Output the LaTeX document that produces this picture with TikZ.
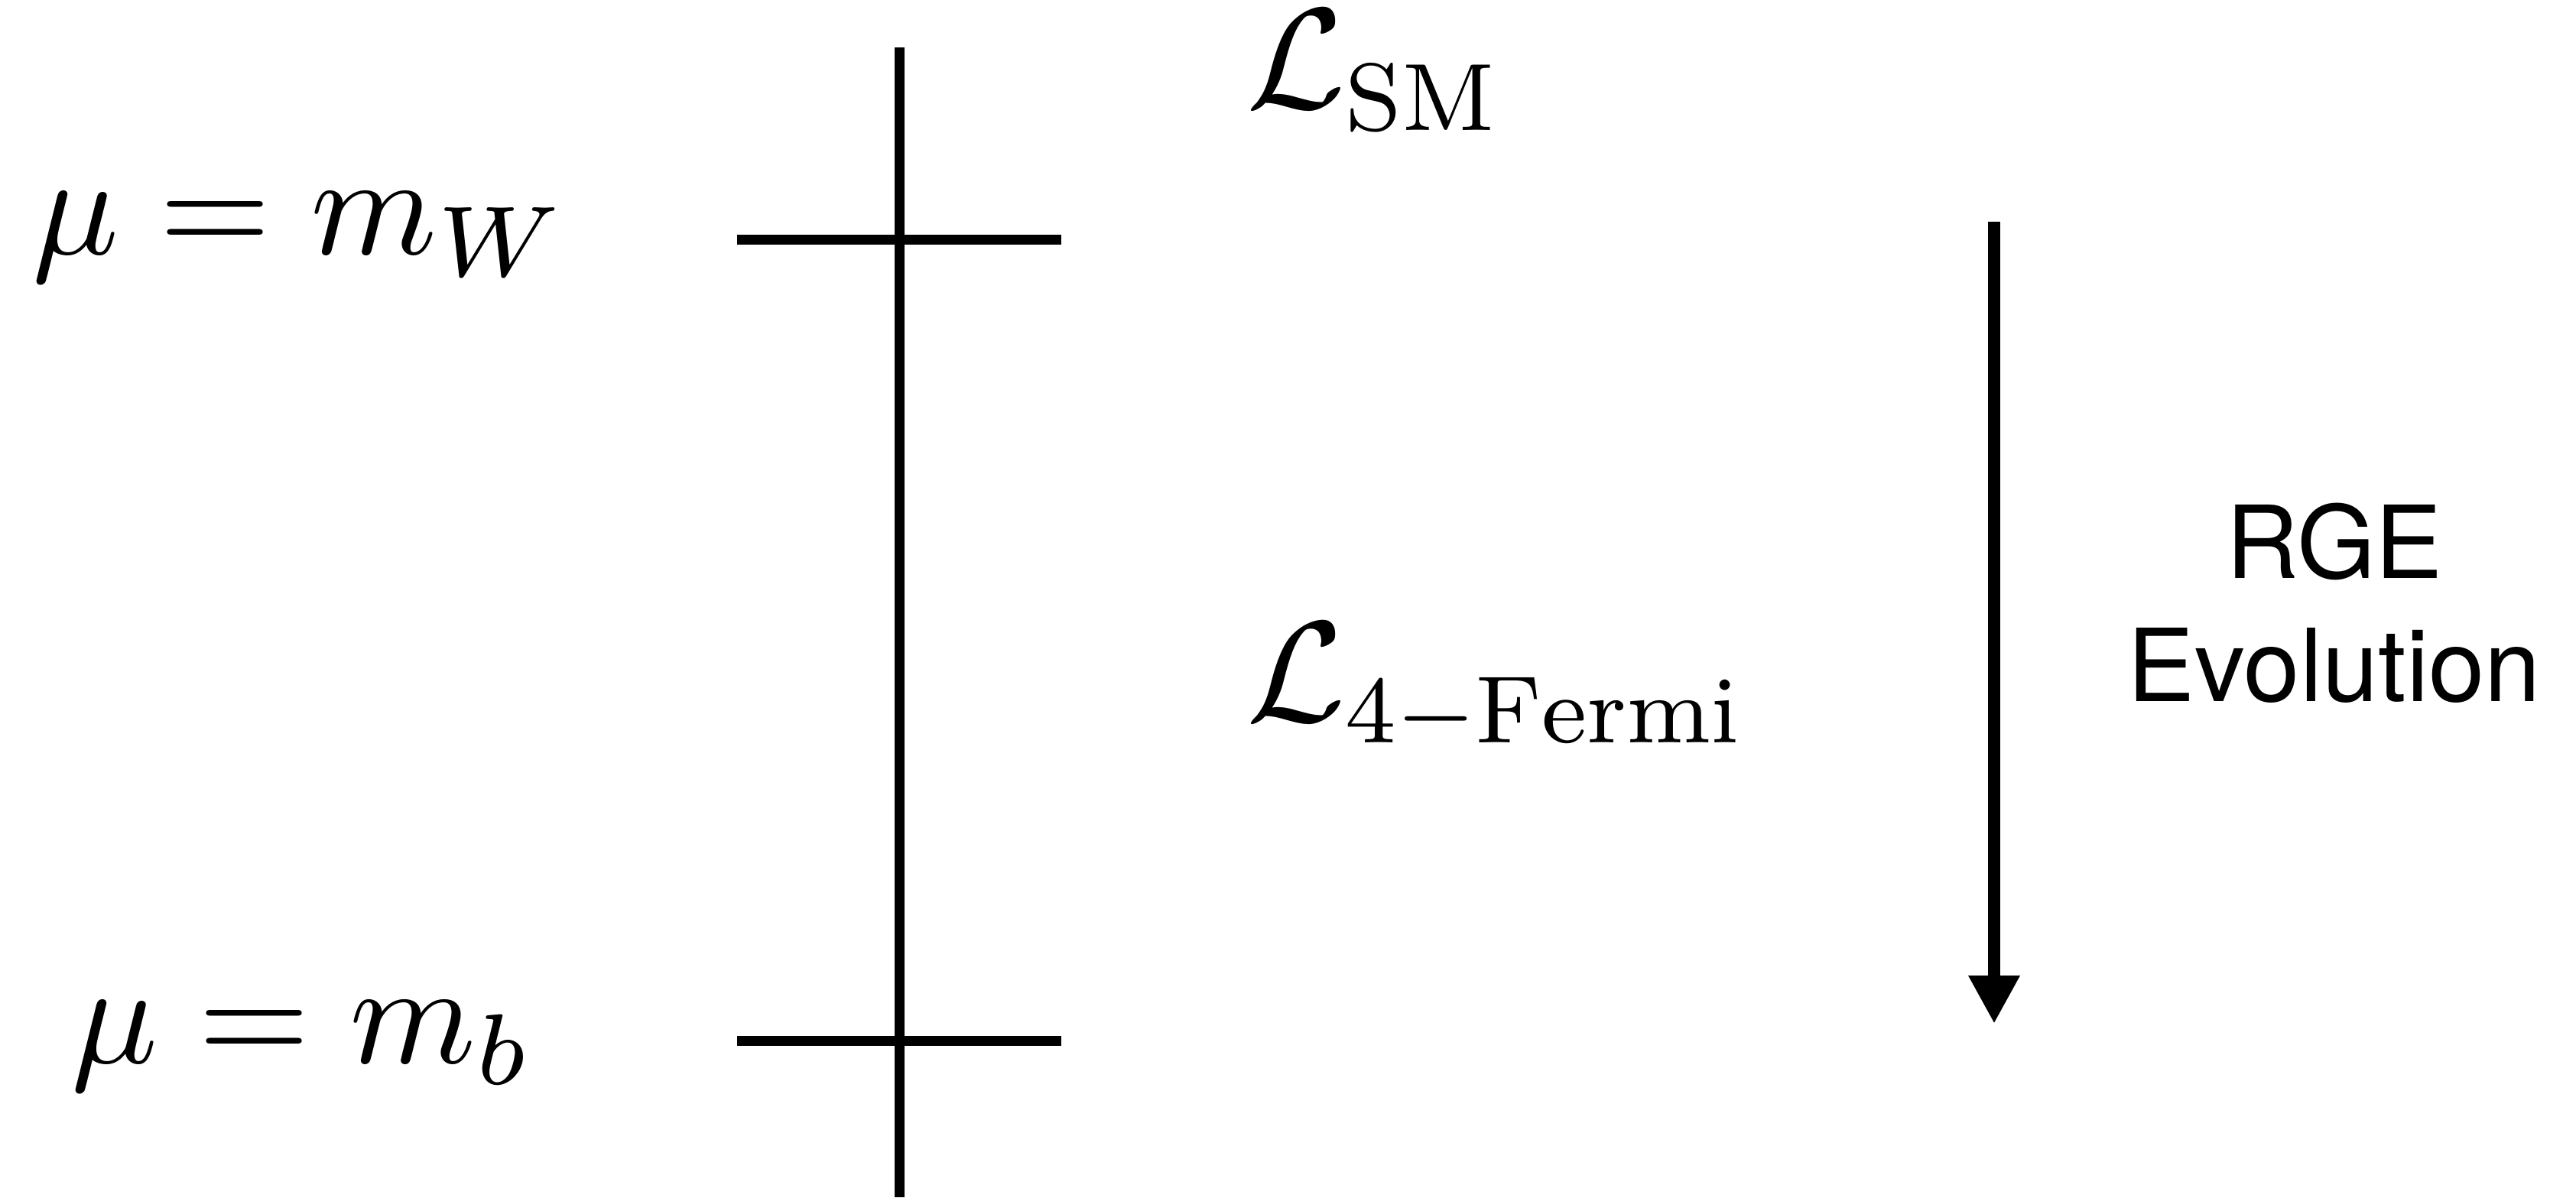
\documentclass[tikz,border=0pt]{standalone}
\usepackage{fontspec}
\newfontfamily\helv{TeX Gyre Heros}
\usetikzlibrary{arrows.meta}

\begin{document}
\begin{tikzpicture}[
    axis/.style={line width=0.13cm},
    bar/.style={line width=0.13cm},
    lab/.style={anchor=base west, inner sep=0pt, scale=5.35},
    lag/.style={anchor=base west, inner sep=0pt, scale=4.45, font=\fontsize{12}{14.4}\selectfont},
    rge/.style={align=center, inner sep=0pt, scale=3.75, font=\helv\fontsize{10}{12.2}\selectfont},
    flw/.style={-{Triangle[length=0.63cm,width=0.63cm]}, line width=0.16cm}
]
    \useasboundingbox (0,0) rectangle (33.69,15.66);
    \coordinate (top) at (11.76,15.04);
    \coordinate (bot) at (11.76,0);
    \coordinate (wl) at (9.64,12.53);
    \coordinate (wr) at (13.88,12.53);
    \coordinate (bl) at (9.64,2.05);
    \coordinate (br) at (13.88,2.05);
    \coordinate (rs) at (26.08,12.76);
    \coordinate (re) at (26.08,2.27);
    \draw[axis] (top) -- (bot);
    \draw[bar] (wl) -- (wr);
    \draw[bar] (bl) -- (br);
    \draw[flw] (rs) -- (re);
    \node[lab] (mw)  at (0.39,12.33) {$\mu = m_W$};
    \node[lab] (mb)  at (0.90,1.76)  {$\mu = m_b$};
    \node[lag] (lsm) at (16.27,14.24) {$\mathcal{L}_{\mathrm{SM}}$};
    \node[lag] (lf)  at (16.27,6.23) {$\mathcal{L}_{4-\mathrm{Fermi}}$};
    \node[rge] (ev)  at (30.53,7.77) {RGE\\Evolution};
\end{tikzpicture}
\end{document}
